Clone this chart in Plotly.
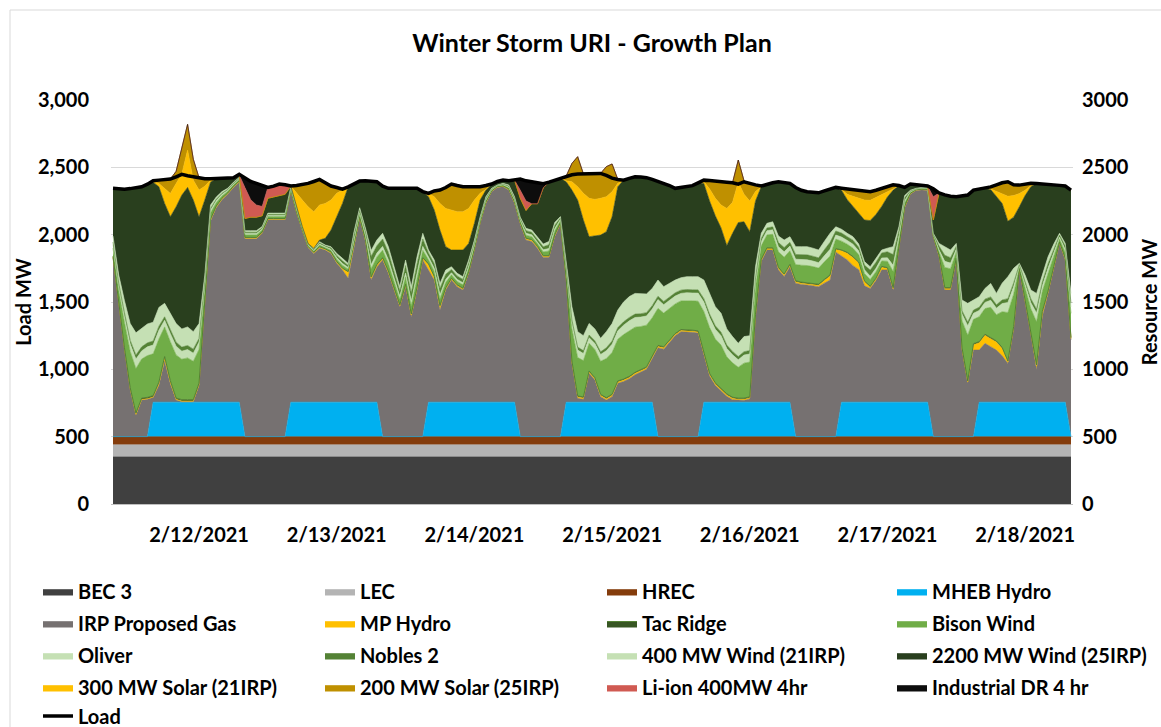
import plotly.graph_objects as go

hours = list(range(168))
day_ticks = [15, 39, 63, 87, 111, 135, 159]
day_labels = ['2/12/2021', '2/13/2021', '2/14/2021', '2/15/2021', '2/16/2021', '2/17/2021', '2/18/2021']

load = [2344, 2340, 2338, 2342, 2348, 2356, 2375, 2400, 2405, 2408, 2413, 2430, 2448, 2438, 2430, 2422, 2415, 2415, 2418, 2420, 2420, 2423, 2448, 2420,
        2395, 2381, 2365, 2351, 2360, 2376, 2370, 2361, 2365, 2372, 2381, 2395, 2410, 2385, 2361, 2350, 2338, 2355, 2380, 2398, 2400, 2396, 2393, 2360,
        2344, 2344, 2344, 2344, 2344, 2344, 2320, 2306, 2325, 2331, 2350, 2376, 2365, 2356, 2356, 2356, 2356, 2365, 2376, 2395, 2405, 2400, 2405, 2413,
        2400, 2393, 2385, 2378, 2390, 2405, 2420, 2435, 2445, 2450, 2452, 2453, 2455, 2455, 2440, 2420, 2410, 2405, 2418, 2430, 2428, 2423, 2410, 2395,
        2381, 2365, 2344, 2350, 2358, 2364, 2385, 2405, 2402, 2400, 2395, 2390, 2386, 2375, 2393, 2380, 2370, 2361, 2375, 2385, 2393, 2387, 2381, 2350,
        2330, 2319, 2315, 2311, 2325, 2340, 2351, 2345, 2340, 2336, 2330, 2324, 2319, 2330, 2344, 2355, 2370, 2365, 2351, 2376, 2372, 2366, 2361, 2340,
        2310, 2295, 2285, 2282, 2288, 2294, 2331, 2338, 2344, 2355, 2370, 2385, 2393, 2370, 2368, 2375, 2381, 2380, 2378, 2376, 2372, 2366, 2361, 2331]

bec3 = [350] * 168
lec = [90] * 168
hrec = [60] * 168

mheb_day = [0, 0, 0, 0, 0, 0, 0, 256, 256, 256, 256, 256, 256, 256, 256, 256, 256, 256, 256, 256, 256, 256, 256, 0]
mheb = mheb_day * 7

gas = [1330, 980, 650, 350, 161, 272, 277, 34, 124, 304, 134, 16, 4, 4, 4, 124, 744, 1344, 1444, 1504, 1544, 1594, 1634, 1470,
       1470, 1470, 1510, 1610, 1610, 1610, 1610, 1569, 1404, 1274, 1149, 1105, 1144, 1130, 1105, 1031, 981, 920, 1144, 1364, 1194, 907, 1004, 1312,
       1213, 1089, 965, 1114, 891, 1089, 1312, 981, 907, 684, 833, 907, 858, 833, 957, 1130, 1328, 1476, 1563, 1595, 1600, 1575, 1476, 1580,
       1460, 1450, 1400, 1330, 1330, 1485, 1580, 907, 288, 29, 21, 214, 164, 41, 16, 41, 140, 154, 174, 204, 224, 244, 324, 660,
       650, 700, 750, 780, 780, 775, 770, 344, 194, 124, 84, 44, 19, 14, 14, 24, 635, 1044, 1130, 1130, 984, 934, 1006, 1140,
       1130, 1126, 1120, 1114, 1140, 1163, 1370, 1084, 1056, 1014, 984, 864, 844, 904, 982, 982, 833, 1144, 1444, 1544, 1574, 1576, 1574, 1485,
       1336, 1089, 1089, 1312, 643, 396, 643, 387, 437, 412, 387, 344, 288, 544, 984, 744, 511, 239, 635, 808, 994, 1179, 1056, 718]

# wind / hydro group: (MP Hydro, Tac Ridge, Bison, Oliver, Nobles 2, 400 MW Wind) per hour
group = [
    (5, 5, 60, 25, 20, 45), (5, 5, 100, 30, 20, 60), (5, 5, 190, 45, 25, 90), (5, 8, 270, 55, 27, 125),
    (5, 10, 330, 70, 30, 165), (5, 10, 290, 60, 30, 135), (5, 10, 310, 65, 30, 140), (5, 10, 310, 65, 30, 140),
    (15, 10, 320, 65, 30, 140), (25, 10, 220, 50, 25, 100), (15, 10, 290, 60, 30, 125), (5, 10, 320, 65, 30, 138),
    (5, 10, 300, 60, 30, 135), (5, 10, 310, 62, 30, 138), (5, 10, 285, 60, 30, 130), (8, 10, 250, 55, 27, 110),
    (10, 8, 90, 30, 20, 42), (10, 6, 45, 20, 14, 25), (8, 5, 25, 15, 10, 17), (6, 5, 17, 12, 8, 12),
    (5, 5, 12, 8, 6, 9), (5, 5, 10, 7, 5, 8), (5, 5, 8, 6, 5, 6), (5, 5, 18, 10, 10, 12),
    (5, 5, 18, 10, 10, 12), (5, 5, 18, 10, 10, 12), (5, 5, 14, 9, 8, 9), (5, 5, 14, 9, 8, 9),
    (5, 5, 14, 9, 8, 9), (5, 5, 14, 9, 8, 9), (5, 5, 14, 9, 8, 9), (4, 4, 7, 5, 5, 5),
    (5, 5, 10, 7, 6, 7), (4, 4, 7, 5, 5, 5), (4, 4, 7, 5, 5, 5), (5, 4, 9, 6, 7, 6),
    (6, 5, 12, 8, 9, 8), (5, 4, 9, 6, 7, 6), (6, 5, 12, 8, 10, 9), (8, 5, 18, 12, 16, 15),
    (10, 5, 20, 14, 20, 18), (45, 5, 18, 12, 15, 15), (15, 6, 30, 18, 28, 23), (8, 5, 20, 12, 18, 17),
    (10, 5, 25, 15, 25, 20), (15, 8, 60, 30, 62, 45), (12, 8, 55, 28, 55, 42), (10, 8, 55, 28, 55, 42),
    (10, 8, 55, 28, 55, 42), (10, 7, 48, 25, 47, 36), (8, 7, 40, 22, 40, 32), (10, 8, 55, 28, 55, 42),
    (12, 8, 62, 32, 62, 47), (12, 8, 70, 35, 70, 52), (10, 8, 55, 28, 55, 42), (40, 7, 30, 20, 30, 22),
    (20, 7, 38, 22, 35, 27), (25, 8, 52, 28, 47, 38), (10, 7, 40, 22, 38, 31), (8, 6, 25, 15, 25, 20),
    (8, 6, 25, 15, 25, 20), (8, 6, 25, 15, 25, 20), (8, 6, 25, 15, 25, 20), (7, 5, 18, 12, 17, 15),
    (6, 5, 11, 8, 10, 9), (6, 5, 11, 8, 11, 9), (4, 3, 5, 4, 5, 4), (3, 3, 4, 3, 3, 2),
    (4, 3, 5, 4, 5, 4), (5, 4, 8, 6, 8, 7), (6, 5, 11, 8, 11, 9), (6, 5, 11, 8, 11, 9),
    (8, 6, 22, 14, 20, 17), (8, 6, 21, 14, 19, 16), (8, 6, 20, 13, 18, 15), (8, 6, 28, 16, 22, 20),
    (8, 6, 35, 18, 28, 25), (8, 6, 30, 16, 25, 20), (6, 5, 14, 9, 11, 9), (10, 6, 55, 20, 18, 40),
    (10, 8, 240, 45, 20, 98), (10, 8, 285, 55, 22, 115), (10, 8, 270, 52, 22, 111), (10, 8, 205, 42, 20, 86),
    (10, 8, 210, 44, 20, 88), (10, 8, 245, 50, 20, 100), (10, 8, 290, 58, 22, 120), (10, 8, 310, 62, 23, 130),
    (10, 8, 310, 62, 24, 130), (10, 8, 330, 70, 25, 147), (10, 8, 340, 72, 25, 155), (10, 8, 335, 72, 25, 154),
    (10, 8, 320, 70, 25, 147), (10, 8, 310, 68, 25, 139), (10, 8, 285, 65, 25, 127), (10, 8, 275, 65, 25, 120),
    (10, 8, 250, 62, 24, 110), (10, 8, 235, 60, 24, 103), (8, 8, 220, 58, 24, 95), (8, 8, 212, 56, 24, 92),
    (8, 8, 215, 58, 24, 95), (8, 8, 218, 58, 24, 97), (8, 8, 220, 60, 24, 98), (12, 8, 310, 70, 25, 138),
    (12, 8, 340, 74, 26, 150), (12, 8, 325, 72, 26, 142), (12, 8, 320, 70, 26, 140), (10, 8, 275, 62, 25, 120),
    (10, 8, 255, 60, 25, 110), (8, 8, 230, 55, 24, 98), (8, 8, 260, 60, 25, 112), (8, 8, 258, 60, 25, 111),
    (10, 8, 200, 48, 22, 83), (10, 7, 100, 33, 22, 38), (10, 7, 95, 32, 20, 34), (10, 7, 100, 33, 22, 38),
    (10, 8, 115, 38, 30, 49), (10, 8, 125, 40, 32, 55), (10, 8, 100, 35, 28, 42), (10, 8, 120, 40, 35, 58),
    (10, 8, 125, 42, 36, 60), (10, 8, 127, 42, 37, 61), (10, 8, 125, 41, 36, 60), (10, 8, 120, 40, 36, 58),
    (20, 8, 130, 45, 45, 62), (30, 8, 140, 50, 52, 67), (20, 7, 70, 30, 30, 32), (40, 7, 65, 30, 30, 28),
    (50, 7, 60, 28, 28, 25), (60, 7, 62, 30, 30, 26), (50, 7, 55, 27, 27, 24), (30, 7, 55, 27, 35, 26),
    (10, 7, 50, 25, 45, 25), (10, 7, 48, 25, 45, 25), (20, 7, 40, 22, 37, 22), (10, 7, 48, 25, 45, 27),
    (10, 8, 120, 45, 80, 59), (8, 7, 50, 25, 40, 29), (6, 6, 25, 15, 22, 16), (4, 4, 7, 5, 5, 5),
    (2, 2, 3, 3, 2, 2), (3, 3, 4, 3, 3, 2), (3, 3, 4, 4, 3, 3), (4, 3, 5, 5, 4, 4),
    (6, 6, 25, 15, 27, 20), (10, 8, 150, 45, 45, 64), (10, 8, 140, 42, 40, 57), (8, 6, 45, 22, 20, 22),
    (10, 8, 200, 50, 24, 80), (10, 8, 340, 70, 26, 140), (40, 8, 180, 45, 24, 75), (55, 8, 185, 46, 24, 78),
    (60, 8, 190, 46, 24, 79), (60, 8, 225, 52, 25, 100), (60, 8, 195, 48, 25, 85), (55, 8, 265, 60, 27, 125),
    (10, 8, 360, 75, 28, 163), (10, 8, 240, 58, 25, 109), (6, 5, 12, 8, 8, 8), (8, 7, 85, 30, 25, 45),
    (10, 8, 165, 45, 30, 64), (30, 8, 320, 65, 28, 118), (30, 8, 150, 42, 27, 52), (10, 8, 130, 40, 32, 52),
    (8, 7, 75, 30, 28, 32), (6, 5, 22, 14, 15, 13), (8, 6, 42, 22, 25, 20), (10, 8, 180, 48, 28, 72),
]
mp_hydro = [g[0] for g in group]
tac_ridge = [g[1] for g in group]
bison = [g[2] for g in group]
oliver = [g[3] for g in group]
nobles2 = [g[4] for g in group]
wind400 = [g[5] for g in group]

wind2200 = [354, 640, 828, 1002, 1077, 1054, 1038, 1040, 896, 742, 713, 867, 994, 1036, 977, 793, 557, 170, 138, 100, 75, 33, 18, 90,
            100, 100, 80, 110, 120, 130, 140, 6, 8, 0, 0, 0, 12, 50, 123, 272, 408, 569, 360, 198, 350, 513, 433, 350,
            433, 582, 730, 532, 730, 508, 310, 396, 371, 396, 174, 124, 173, 198, 123, 124, 124, 49, 32, 26, 24, 31, 123, 140,
            133, 196, 250, 418, 440, 315, 286, 581, 866, 977, 859, 644, 690, 767, 742, 793, 916, 905, 878, 866, 868, 863, 810, 732,
            767, 725, 681, 670, 670, 676, 697, 717, 690, 675, 634, 620, 767, 897, 853, 772, 488, 346, 291, 289, 403, 427, 396, 439,
            419, 408, 415, 425, 375, 330, 292, 290, 250, 225, 230, 309, 343, 330, 324, 380, 420, 306, 61, 46, 28, 16, 11, 99,
            375, 384, 399, 347, 773, 804, 816, 799, 744, 697, 716, 592, 412, 380, 421, 590, 767, 816, 678, 540, 442, 356, 426, 767]

solar300_hours = {7: 5, 8: 24, 9: 108, 10: 173, 11: 173, 12: 156, 13: 277, 14: 148, 15: 198, 16: 103, 17: 15,
                  32: 99, 33: 197, 34: 273, 35: 272, 36: 260, 37: 259, 38: 223, 39: 174, 40: 99,
                  55: 24, 56: 99, 57: 198, 58: 284, 59: 297, 60: 284, 61: 284, 62: 260, 63: 173, 64: 50, 65: 5,
                  79: 7, 80: 62, 81: 99, 82: 198, 83: 285, 84: 272, 85: 273, 86: 260, 87: 186, 88: 25,
                  103: 15, 104: 90, 105: 130, 106: 170, 107: 275, 108: 230, 109: 300, 110: 204, 111: 228, 112: 70,
                  127: 5, 128: 40, 129: 75, 130: 110, 131: 148, 132: 150, 133: 125, 134: 85, 135: 35, 136: 9,
                  153: 5, 154: 40, 155: 73, 156: 185, 157: 160, 158: 97, 159: 40, 160: 10}
solar200_hours = {7: 5, 8: 25, 9: 68, 10: 107, 11: 90, 12: 200, 13: 191, 14: 155, 15: 91, 16: 55, 17: 10,
                  32: 58, 33: 115, 34: 173, 35: 225, 36: 190, 37: 153, 38: 104, 39: 43, 40: 7,
                  56: 43, 57: 99, 58: 155, 59: 193, 60: 195, 61: 186, 62: 161, 63: 99, 64: 49, 65: 29,
                  79: 35, 80: 136, 81: 223, 82: 145, 83: 183, 84: 193, 85: 185, 86: 223, 87: 206, 88: 29,
                  103: 10, 104: 62, 105: 130, 106: 175, 107: 195, 108: 146, 109: 164, 110: 100, 111: 130, 112: 50, 113: 5,
                  127: 10, 128: 40, 129: 51, 130: 60, 131: 67, 132: 64, 133: 55, 134: 49, 135: 40, 136: 30,
                  153: 15, 154: 50, 155: 80, 156: 108, 157: 80, 158: 63, 159: 45, 160: 15}
liion_hours = {23: 230, 24: 130, 25: 90, 26: 70, 27: 81, 28: 80, 29: 86, 30: 70, 71: 60, 72: 70, 143: 173}
dr_hours = {22: 5, 23: 70, 24: 135, 25: 161, 26: 155, 71: 83, 72: 150, 73: 163, 74: 155, 75: 30, 143: 58}

solar300 = [solar300_hours.get(h, 0) for h in hours]
solar200 = [solar200_hours.get(h, 0) for h in hours]
liion = [liion_hours.get(h, 0) for h in hours]
ind_dr = [dr_hours.get(h, 0) for h in hours]

# (name, values, colour, legend column)
series = [
    ('BEC 3', bec3, '#404040', 'legend'),
    ('LEC', lec, '#b4b4b4', 'legend2'),
    ('HREC', hrec, '#843c0c', 'legend3'),
    ('MHEB Hydro', mheb, '#00b0f0', 'legend4'),
    ('IRP Proposed Gas', gas, '#767171', 'legend'),
    ('MP Hydro', mp_hydro, '#ffc000', 'legend2'),
    ('Tac Ridge', tac_ridge, '#375623', 'legend3'),
    ('Bison Wind', bison, '#70ad47', 'legend4'),
    ('Oliver', oliver, '#c5e0b4', 'legend'),
    ('Nobles 2', nobles2, '#548235', 'legend2'),
    ('400 MW Wind (21IRP)', wind400, '#c5e0b4', 'legend3'),
    ('2200 MW Wind (25IRP)', wind2200, '#293f1e', 'legend4'),
    ('300 MW Solar (21IRP)', solar300, '#ffc000', 'legend'),
    ('200 MW Solar (25IRP)', solar200, '#bf9000', 'legend2'),
    ('Li-ion 400MW 4hr', liion, '#d05a52', 'legend3'),
    ('Industrial DR 4 hr', ind_dr, '#0d0d0d', 'legend4'),
]

FONT = 'Lato'
fig = go.Figure()
for name, vals, color, lg in series:
    lc = '#548235' if name == 'Tac Ridge' else color
    fig.add_trace(go.Scatter(
        x=hours, y=vals, name=name, mode='lines', stackgroup='one',
        line=dict(width=0.6 if name != 'Tac Ridge' else 1, color=lc),
        fillcolor=color, legend=lg, legendgroup=name, hoverinfo='skip'))

fig.add_trace(go.Scatter(x=hours, y=load, name='Load', mode='lines',
                         line=dict(color='black', width=3.5), yaxis='y2',
                         legend='legend5', legendgroup='Load', hoverinfo='skip'))

L, R, T, B = 111, 88, 100, 223
W, H = 1161, 727
pw, ph = W - L - R, H - T - B

def px_x(x):
    return (x - L) / pw

def px_y(y):
    return (H - B - y) / ph

leg_font = dict(family=FONT, size=20, color='black', weight='bold')
col_x = [38, 320, 602, 892]
legend_common = dict(orientation='v', xanchor='left', yanchor='top', y=px_y(572),
                     font=leg_font, bgcolor='rgba(0,0,0,0)', traceorder='grouped',
                     tracegroupgap=3, itemclick=False, itemdoubleclick=False)

fig.update_layout(
    width=W, height=H,
    margin=dict(l=L, r=R, t=T, b=B, autoexpand=False),
    paper_bgcolor='white', plot_bgcolor='white',
    title=dict(text='<b>Winter Storm URI - Growth Plan</b>', x=0.5, xref='paper', xanchor='center',
               y=1 - 43 / H, yanchor='middle', font=dict(family=FONT, size=25, color='black')),
    xaxis=dict(range=[-0.35, 167.35], tickvals=day_ticks, ticktext=day_labels, showgrid=False,
               showline=True, linecolor='#bfbfbf', linewidth=1, ticks='', zeroline=False,
               tickfont=dict(family=FONT, size=20, color='black', weight='bold'), ticklabelstandoff=13),
    yaxis=dict(range=[0, 3000], dtick=500, tickformat=',d', showgrid=True, gridcolor='#d9d9d9',
               gridwidth=1, zeroline=False, showline=False, ticks='',
               tickfont=dict(family=FONT, size=20, color='black', weight='bold'), ticklabelstandoff=21,
               title=dict(text='Load MW', font=dict(family=FONT, size=20, color='black', weight='bold'), standoff=0)),
    yaxis2=dict(range=[0, 3000], dtick=500, tickformat='d', overlaying='y', side='right', showgrid=False,
                zeroline=False, showline=False, ticks='',
                tickfont=dict(family=FONT, size=20, color='black', weight='bold'), ticklabelstandoff=8,
                title=dict(text='Resource MW', font=dict(family=FONT, size=20, color='black', weight='bold'), standoff=33)),
    legend=dict(legend_common, x=px_x(col_x[0])),
    legend2=dict(legend_common, x=px_x(col_x[1])),
    legend3=dict(legend_common, x=px_x(col_x[2])),
    legend4=dict(legend_common, x=px_x(col_x[3])),
    legend5=dict(legend_common, x=px_x(col_x[0]), y=px_y(716), yanchor='middle'),
    shapes=[dict(type='rect', xref='paper', yref='paper', x0=px_x(10), x1=px_x(1200),
                 y0=px_y(760), y1=px_y(10), line=dict(color='#d9d9d9', width=1), fillcolor='rgba(0,0,0,0)',
                 layer='below')],
    showlegend=True,
)

fig.write_html('out.html', config={'displayModeBar': False, 'staticPlot': True},
               post_script="document.body.style.margin='0';document.body.style.overflow='hidden';")
